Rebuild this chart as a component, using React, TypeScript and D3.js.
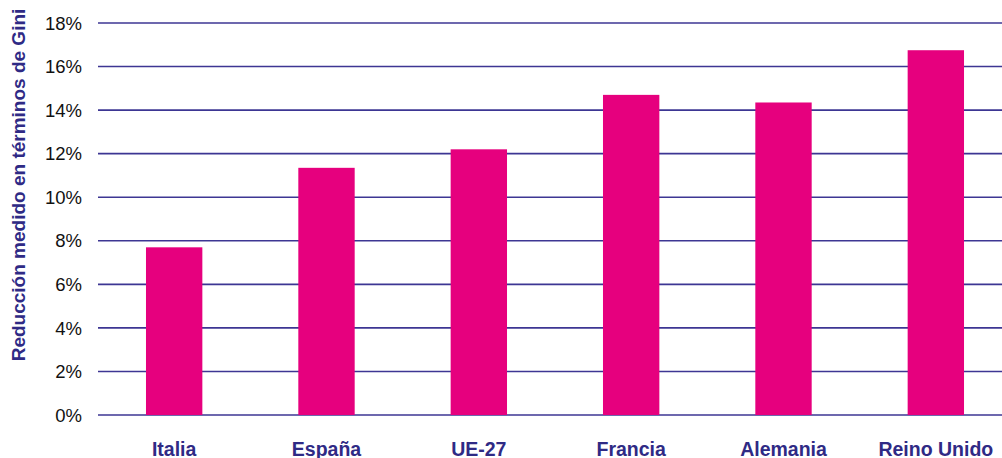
import React from "react";
import * as d3 from "d3";

const categories = ["Italia", "España", "UE-27", "Francia", "Alemania", "Reino Unido"];
const values = [7.7, 11.35, 12.2, 14.7, 14.35, 16.75];
const yTicks = [0, 2, 4, 6, 8, 10, 12, 14, 16, 18];
const yTitle = "Reducción medido en términos de Gini";

const W = 1002;
const H = 458;

export default function App() {
  const x = d3.scaleBand<string>().domain(categories).range([98, 1012]).paddingInner(0.63).paddingOuter(0.315);
  const y = d3.scaleLinear().domain([0, 18]).range([415, 23]);
  const navy = "#2f2a85";
  return (
    <svg width={W} height={H} style={{ position: "absolute", left: 0, top: 0 }}>
      <rect width={W} height={H} fill="#fff" />
      {yTicks.map((t) => (
        <g key={t}>
          <line x1={98} x2={W} y1={y(t)} y2={y(t)} stroke="#3d3693" strokeWidth={1.6} />
          <text x={82} y={y(t)} dy="0.36em" textAnchor="end" fontFamily="Liberation Sans, Arial, sans-serif" fontSize={18.5} fill="#111">
            {t}%
          </text>
        </g>
      ))}
      {categories.map((c, i) => (
        <rect key={c} x={x(c)} y={y(values[i])} width={x.bandwidth()} height={y(0) - y(values[i])} fill="#e6007e" />
      ))}
      {categories.map((c) => (
        <text key={c} x={(x(c) as number) + x.bandwidth() / 2} y={455.5} textAnchor="middle" fontFamily="Liberation Sans, Arial, sans-serif" fontWeight="bold" fontSize={19.5} fill={navy}>
          {c}
        </text>
      ))}
      <text transform={`translate(25,${185}) rotate(-90)`} textAnchor="middle" fontFamily="Liberation Sans, Arial, sans-serif" fontWeight="bold" fontSize={19} fill={navy}>
        {yTitle}
      </text>
    </svg>
  );
}
